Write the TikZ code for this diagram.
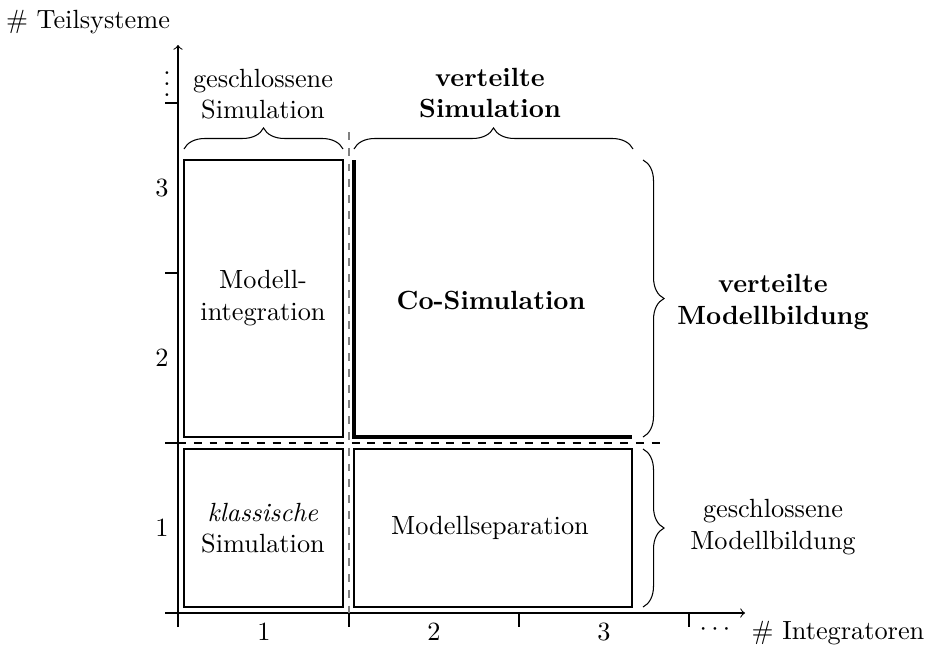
\documentclass[tikz,border=0pt]{standalone}
\usetikzlibrary{decorations.pathreplacing}
\begin{document}
\begin{tikzpicture}[x=0.38pt,y=-0.38pt,
  cell/.style={draw,line width=0.4pt},
  lbl/.style={align=center,inner sep=0pt},
  brc/.style={decorate,decoration={brace,amplitude=8pt},line width=0.4pt},
  axisline/.style={line width=0.4pt}
]
\useasboundingbox (0,0) rectangle (926,646);
% corner coordinates
\coordinate (yb) at (178,627);
\coordinate (yt) at (178,45);
\coordinate (xl) at (165,613);
\coordinate (xr) at (745,613);
% axes
\draw[axisline,->] (yb) -- (yt);
\draw[axisline,->] (xl) -- (xr);
\foreach \y in {443,273,103} \draw[axisline] (165,\y) -- (178,\y);
\foreach \x in {349,519,689} \draw[axisline] (\x,613) -- (\x,627);
% separators
\coordinate (hs) at (178,443);
\coordinate (he) at (660,443);
\draw[dashed,axisline] (hs) -- (he);
\coordinate (vs) at (349,132);
\coordinate (ve) at (349,613);
\draw[dashed,gray,axisline] (vs) -- (ve);
% boxes
\draw[cell] (184,160) rectangle (343,437);
\draw[cell] (184,449) rectangle (343,607);
\draw[cell] (354,449) rectangle (632,607);
\coordinate (ca) at (354,160);
\coordinate (cb) at (354,437);
\coordinate (cc) at (632,437);
\draw[line width=1.2pt] (ca) -- (cb) -- (cc);
% braces
\draw[brc] (184,149) -- (343,149);
\draw[brc] (354,149) -- (633,149);
\draw[brc] (643,160) -- (643,437);
\draw[brc] (643,449) -- (643,607);
% box texts
\node[lbl] (mi) at (263,298) {Modell-\\integration};
\node[lbl] (cs) at (491,300) {\textbf{Co-Simulation}};
\node[lbl] (ks) at (263,528) {\textit{klassische}\\Simulation};
\node[lbl] (ms) at (490,528) {Modellseparation};
% brace texts
\node[lbl] (gs) at (263,94) {geschlossene\\Simulation};
\node[lbl] (vsim) at (490,93) {\textbf{verteilte}\\\textbf{Simulation}};
\node[lbl] (vm) at (773,302) {\textbf{verteilte}\\\textbf{Modellbildung}};
\node[lbl] (gm) at (773,527) {geschlossene\\Modellbildung};
% axis labels
\node[lbl] (ty) at (88,22) {\# Teilsysteme};
\node[lbl] (tx) at (838,633) {\# Integratoren};
\node[lbl] (y3) at (162,188) {3};
\node[lbl] (y2) at (162,358) {2};
\node[lbl] (y1) at (162,528) {1};
\node[lbl,anchor=base] (yd) at (167,96) {$\vdots$};
\node[lbl] (x1) at (264,632) {1};
\node[lbl] (x2) at (434,632) {2};
\node[lbl] (x3) at (604,632) {3};
\node[lbl,anchor=base] (xd) at (715,635) {$\cdots$};
\end{tikzpicture}
\end{document}
